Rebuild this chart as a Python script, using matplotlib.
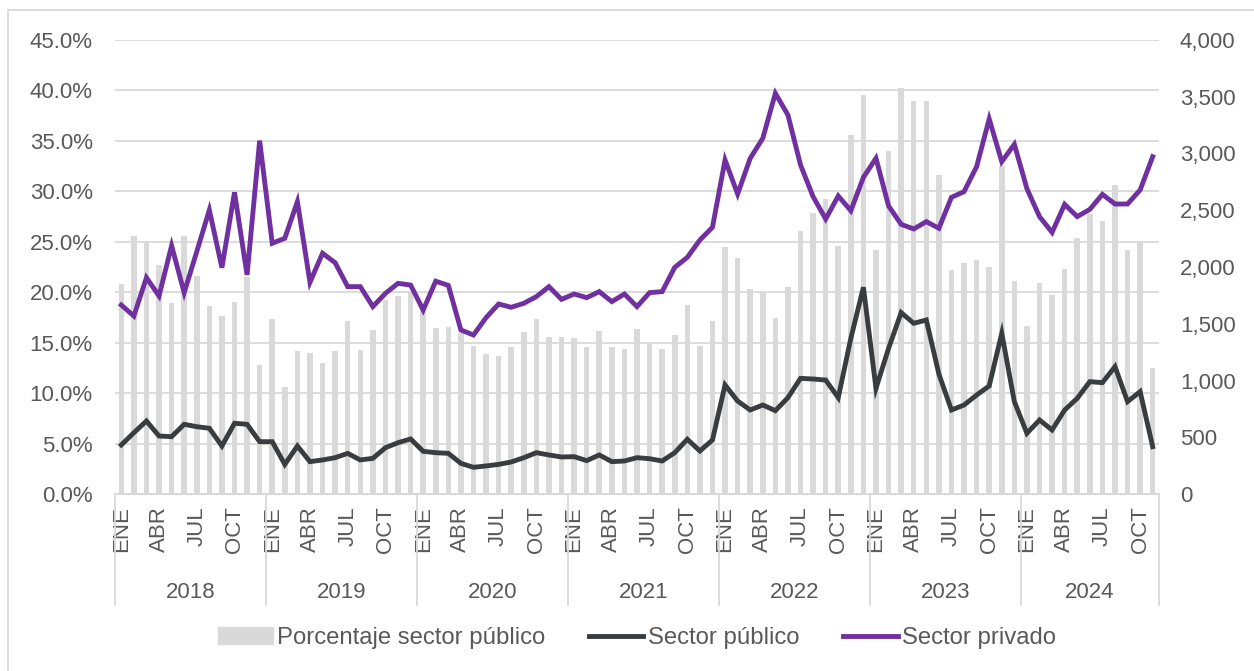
import matplotlib
matplotlib.use("Agg")
import matplotlib.pyplot as plt
import matplotlib.transforms as mtransforms
from matplotlib.lines import Line2D
from matplotlib.ticker import FuncFormatter, MultipleLocator

# ---------------- data ----------------
years = ["2018", "2019", "2020", "2021", "2022", "2023", "2024"]
months = ["ENE", "FEB", "MAR", "ABR", "MAY", "JUN", "JUL", "AGO", "SEP", "OCT", "NOV", "DIC"]
shown_months = ["ENE", "ABR", "JUL", "OCT"]
months_per_year = [12, 12, 12, 12, 12, 12, 11]

pct_public = [
    20.8, 25.6, 25.1, 22.7, 18.9, 25.6, 21.6, 18.6, 17.6, 19.0, 21.5, 12.8,
    17.3, 10.6, 14.2, 14.0, 13.0, 14.2, 17.1, 14.3, 16.3, 19.2, 19.6, 20.0,
    18.5, 16.5, 16.6, 16.0, 14.7, 13.9, 13.7, 14.6, 16.1, 17.3, 15.6, 15.6,
    15.5, 14.6, 16.2, 14.6, 14.4, 16.4, 15.0, 14.4, 15.8, 18.7, 14.7, 17.1,
    24.5, 23.4, 20.3, 20.1, 17.4, 20.5, 26.1, 27.9, 29.2, 24.6, 35.6, 39.5,
    24.2, 34.0, 40.2, 39.0, 39.0, 31.6, 22.2, 22.9, 23.2, 22.5, 32.5, 21.1,
    16.7, 20.9, 19.7, 22.3, 25.4, 27.8, 27.1, 30.6, 24.2, 25.1, 12.5,
]
sector_publico = [
    432, 540, 643, 511, 505, 614, 593, 579, 423, 623, 614, 461,
    461, 261, 423, 285, 300, 320, 358, 300, 314, 408, 452, 485,
    376, 364, 358, 270, 235, 247, 261, 282, 320, 364, 344, 326,
    329, 294, 344, 285, 291, 320, 311, 291, 364, 482, 379, 476,
    960, 819, 740, 784, 734, 849, 1019, 1013, 1004, 849, 1372, 1821,
    931, 1283, 1598, 1504, 1533, 1057, 740, 784, 872, 952, 1416, 814,
    535, 652, 564, 740, 843, 990, 981, 1122, 814, 902, 417,
]
sector_privado = [
    1665, 1568, 1906, 1745, 2188, 1774, 2135, 2502, 1994, 2658, 1930, 3113,
    2209, 2253, 2576, 1865, 2121, 2038, 1827, 1827, 1651, 1768, 1856, 1841,
    1621, 1875, 1838, 1445, 1401, 1554, 1674, 1645, 1680, 1739, 1827, 1715,
    1762, 1730, 1783, 1695, 1762, 1651, 1774, 1783, 1997, 2085, 2238, 2350,
    2943, 2643, 2958, 3134, 3530, 3339, 2899, 2620, 2423, 2626, 2496, 2790,
    2958, 2538, 2376, 2335, 2400, 2341, 2614, 2664, 2884, 3304, 2928, 3081,
    2690, 2444, 2305, 2552, 2444, 2508, 2640, 2555, 2555, 2679, 2972,
]

# ---------------- style ----------------
plt.rcParams["font.family"] = ["Liberation Sans", "DejaVu Sans"]
TXT = "#595959"
GRID = "#d9d9d9"
BAR = "#d9d9d9"
PURPLE = "#7030a0"
DARK = "#3a3d3f"
FS = 16
FS_LEG = 17.2
LW = 3.5

W, H = 1254, 671
fig = plt.figure(figsize=(W / 100, H / 100), dpi=100)
L, R, T, B = 115, 1159, 40, 494
ax = fig.add_axes([L / W, 1 - B / H, (R - L) / W, (B - T) / H])
ax2 = ax.twinx()

n = len(pct_public)
x = list(range(n))

ax.bar(x, pct_public, width=0.44, color=BAR, zorder=2)
ax.set_ylim(0, 45)
ax.yaxis.set_major_locator(MultipleLocator(5))
ax.yaxis.set_major_formatter(FuncFormatter(lambda v, p: f"{v:.1f}%"))
ax.grid(axis="y", color=GRID, linewidth=1.3, zorder=0)
ax.set_axisbelow(True)
ax.set_xlim(-0.5, n - 0.5)

ax2.plot(x, sector_publico, color=DARK, linewidth=LW, solid_joinstyle="miter", zorder=3)
ax2.plot(x, sector_privado, color=PURPLE, linewidth=LW, solid_joinstyle="miter", zorder=3)
ax2.set_ylim(0, 4000)
ax2.yaxis.set_major_locator(MultipleLocator(500))
ax2.yaxis.set_major_formatter(FuncFormatter(lambda v, p: f"{int(v):,}"))
ax2.set_xlim(-0.5, n - 0.5)

for a in (ax, ax2):
    for s in ("top", "left", "right"):
        a.spines[s].set_visible(False)
    a.spines["bottom"].set_color(GRID)
    a.spines["bottom"].set_linewidth(1.3)

ax.tick_params(axis="y", length=0, pad=16, labelsize=FS, labelcolor=TXT)
ax2.tick_params(axis="y", length=0, pad=15, labelsize=FS, labelcolor=TXT)

# month tick labels
tick_pos, tick_lab = [], []
start = 0
for yi, cnt in enumerate(months_per_year):
    for m in range(cnt):
        if months[m] in shown_months:
            tick_pos.append(start + m)
            tick_lab.append(months[m])
    start += cnt
ax.set_xticks(tick_pos)
ax.set_xticklabels(tick_lab, rotation=90)
ax.tick_params(axis="x", length=0, pad=9, labelsize=FS, labelcolor=TXT)
ax2.tick_params(axis="x", length=0)

# year labels and separators
trans = mtransforms.blended_transform_factory(ax.transData, ax.transAxes)
sep_bottom = -(605 - B) / (B - T)
year_y = -(592 - B) / (B - T)
start = 0
bounds = [-0.5]
for yi, cnt in enumerate(months_per_year):
    center = start + (cnt - 1) / 2
    ax.text(center, year_y, years[yi], transform=trans, ha="center", va="center",
            fontsize=FS, color=TXT)
    start += cnt
    bounds.append(start - 0.5)
for bx in bounds:
    ax.add_line(Line2D([bx, bx], [0, sep_bottom], transform=trans, color=GRID,
                       linewidth=1.3, clip_on=False))

# legend
handles = [
    plt.Rectangle((0, 0), 1, 1, color=BAR),
    Line2D([0], [0], color=DARK, linewidth=LW),
    Line2D([0], [0], color=PURPLE, linewidth=LW),
]
labels = ["Porcentaje sector público", "Sector público", "Sector privado"]
fig.legend(handles, labels, loc="center", bbox_to_anchor=(0.508, 1 - 638 / H),
           ncol=3, frameon=False, fontsize=FS_LEG, labelcolor=TXT,
           handlelength=2.3, handleheight=0.7, handletextpad=0.2, columnspacing=1.8)

# outer frame (chart area border)
fig.add_artist(Line2D([8 / W, 8 / W], [0, 1 - 10 / H], transform=fig.transFigure,
                      color=GRID, linewidth=1.3))
fig.add_artist(Line2D([8 / W, 1], [1 - 10 / H, 1 - 10 / H], transform=fig.transFigure,
                      color=GRID, linewidth=1.3))

fig.savefig("out.png", dpi=100)
